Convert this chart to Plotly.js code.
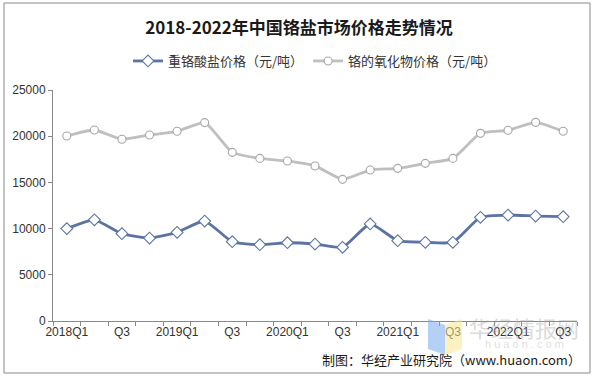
<!DOCTYPE html>
<html>
<head>
<meta charset="utf-8">
<script src="https://cdn.plot.ly/plotly-3.0.1.min.js"></script>
<style>
html,body{margin:0;padding:0;background:#fff;}
#chart{width:598px;height:377px;}
</style>
</head>
<body>
<div id="chart"></div>
<script>
const categories = ["2018Q1","2018Q2","2018Q3","2018Q4","2019Q1","2019Q2","2019Q3","2019Q4","2020Q1","2020Q2","2020Q3","2020Q4","2021Q1","2021Q2","2021Q3","2021Q4","2022Q1","2022Q2","2022Q3"];
const tickLabels = ["2018Q1","","Q3","","2019Q1","","Q3","","2020Q1","","Q3","","2021Q1","","Q3","","2022Q1","","Q3"];
const dichromatePrice = [10000,10950,9450,8980,9600,10820,8580,8260,8470,8330,7980,10500,8690,8520,8520,11220,11470,11360,11290];
const chromiumOxidePrice = [20020,20670,19670,20130,20530,21470,18250,17600,17320,16780,15330,16340,16520,17060,17600,20310,20640,21500,20530];
const seriesNames = ["重铬酸盐价格（元/吨）","铬的氧化物价格（元/吨）"];

const font = "Liberation Sans, Arial, Noto Sans CJK SC, sans-serif";
const cjk = "Noto Sans CJK SC, sans-serif";

const traces = [
  {
    x: categories, y: dichromatePrice, name: seriesNames[0],
    type: "scatter", mode: "lines+markers",
    line: {color: "#5b74a3", width: 2.8, shape: "spline", smoothing: 0.5},
    marker: {symbol: "diamond", size: 9, color: "#ffffff", line: {color: "#5b74a3", width: 1.1}}
  },
  {
    x: categories, y: chromiumOxidePrice, name: seriesNames[1],
    type: "scatter", mode: "lines+markers",
    line: {color: "#bfbfbf", width: 2.8, shape: "spline", smoothing: 0.5},
    marker: {symbol: "circle", size: 8, color: "#ffffff", line: {color: "#a6a6a6", width: 1.1}}
  }
];

const L = 53, R = 577, T = 90, B = 321;
const pw = R - L, ph = B - T;
const px = v => (v - L) / pw;
const py = v => (B - v) / ph;

const layout = {
  width: 598, height: 377,
  margin: {l: L, r: 598 - R, t: T, b: 377 - B},
  paper_bgcolor: "#ffffff", plot_bgcolor: "#ffffff",
  title: {
    text: "<b>2018-2022年中国铬盐市场价格走势情况</b>",
    font: {family: cjk, size: 17, color: "#1a1a1a"},
    x: 0.5, xanchor: "center", y: 1 - 28/377, yanchor: "middle"
  },
  showlegend: true,
  legend: {
    orientation: "h", x: 0.5, xanchor: "center", y: py(61), yanchor: "middle",
    font: {family: cjk, size: 13, color: "#333333"},
    itemwidth: 30, tracegroupgap: 0, bgcolor: "rgba(0,0,0,0)"
  },
  xaxis: {
    type: "category", tickmode: "array", tickvals: categories, ticktext: tickLabels,
    tickson: "boundaries", ticks: "outside", ticklen: 4, tickcolor: "#898989",
    showline: true, linecolor: "#898989", linewidth: 1,
    showgrid: false, zeroline: false,
    tickfont: {family: font, size: 12, color: "#333333"}, tickangle: 0,
    range: [-0.5, categories.length - 0.5]
  },
  yaxis: {
    range: [0, 25000], dtick: 5000, tick0: 0, tickformat: "d",
    ticks: "outside", ticklen: 4, tickcolor: "#898989",
    showline: true, linecolor: "#898989", linewidth: 1,
    showgrid: false, zeroline: false,
    tickfont: {family: font, size: 12, color: "#333333"}
  },
  shapes: [
    {type: "rect", xref: "paper", yref: "paper", x0: px(4), x1: px(590), y0: py(373), y1: py(3),
     line: {color: "#898989", width: 1}, fillcolor: "rgba(0,0,0,0)", layer: "below"},
    {type: "path", xref: "paper", yref: "paper", layer: "above",
     path: `M ${px(428)} ${py(319)} L ${px(445)} ${py(325)} L ${px(445)} ${py(355)} L ${px(428)} ${py(349)} Z`,
     fillcolor: "rgba(120,170,240,0.55)", line: {width: 0}},
    {type: "path", xref: "paper", yref: "paper", layer: "above",
     path: `M ${px(445)} ${py(325)} L ${px(462)} ${py(319)} L ${px(462)} ${py(349)} L ${px(445)} ${py(355)} Z`,
     fillcolor: "rgba(250,230,140,0.55)", line: {width: 0}}
  ],
  annotations: [
    {text: "华经情报网", xref: "paper", yref: "paper", x: px(524), y: py(327), xanchor: "center", yanchor: "middle",
     showarrow: false, font: {family: cjk, size: 22, color: "rgba(160,160,160,0.4)"}},
    {text: "h u a o n . c o m", xref: "paper", yref: "paper", x: px(524), y: py(344), xanchor: "center", yanchor: "middle",
     showarrow: false, font: {family: font, size: 11, color: "rgba(170,170,170,0.4)"}},
    {text: "制图：华经产业研究院（www.huaon.com）", xref: "paper", yref: "paper", x: px(583), y: py(359),
     xanchor: "right", yanchor: "middle", showarrow: false,
     font: {family: cjk, size: 13, color: "#1a1a1a"}}
  ]
};

Plotly.newPlot("chart", traces, layout, {displayModeBar: false, staticPlot: true});
</script>
</body>
</html>
